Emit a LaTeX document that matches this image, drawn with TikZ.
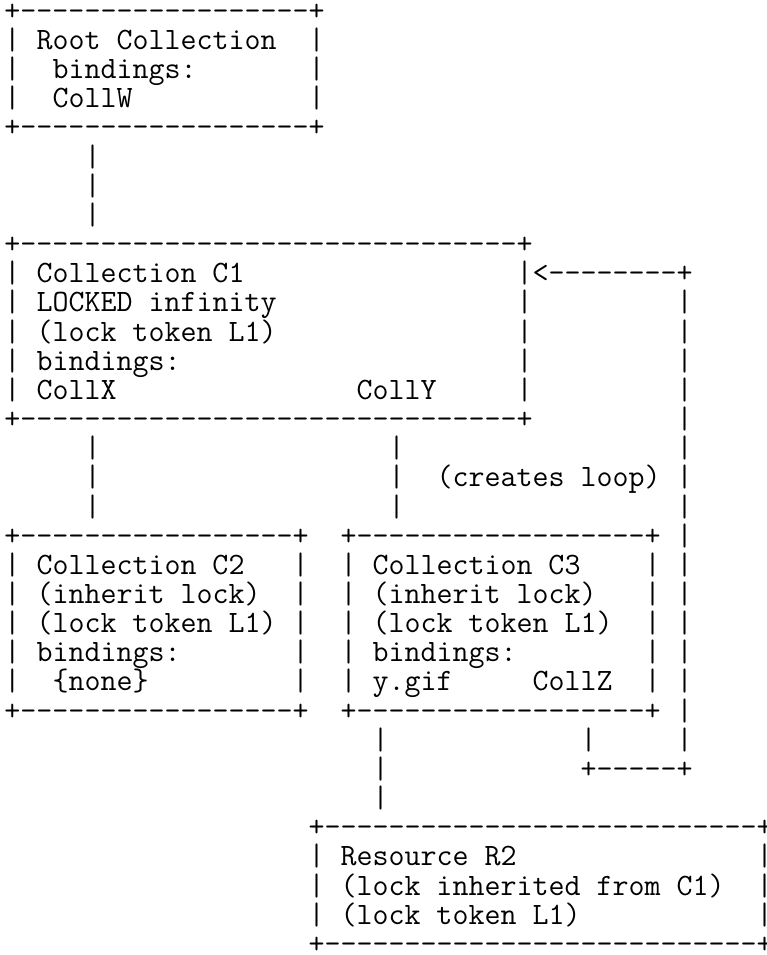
\documentclass[tikz,border=0pt]{standalone}
\usepackage{fontspec}
\ExplSyntaxOn
\cs_new:Npn \myrep #1#2 { \prg_replicate:nn {#1} {#2} }
\ExplSyntaxOff
\newlength\cellw
\settowidth{\cellw}{\ttfamily\fontsize{30}{30}\selectfont M}
\pgfmathsetmacro\ttsize{30*16/\cellw}
\newcommand\dsh{\hbox{-}}
\newcommand\boxedge[1]{+\myrep{#1}{\dsh}+}
\tikzset{asciitxt/.style={anchor=base west, inner sep=0pt, outer sep=0pt, text=black,
  font=\ttfamily\fontsize{\ttsize}{29.16}\selectfont}}
\newcommand\A[3]{\node[asciitxt] (r#2c#1) at ({4.5+16*#1},{20.3+29.16*#2}) {#3};}
\begin{document}
\begin{tikzpicture}[x=1pt,y=-1pt]
\fill[white] (0,0) rectangle (767,955);
\useasboundingbox (0,0) rectangle (767,955);
% Root collection
\A{0}{0}{\boxedge{18}}
\A{0}{1}{|}\A{2}{1}{Root Collection}\A{19}{1}{|}
\A{0}{2}{|}\A{3}{2}{bindings:}\A{19}{2}{|}
\A{0}{3}{|}\A{3}{3}{CollW}\A{19}{3}{|}
\A{0}{4}{\boxedge{18}}
\A{5}{5}{|}\A{5}{6}{|}\A{5}{7}{|}
% Collection C1
\A{0}{8}{\boxedge{31}}
\A{0}{9}{|}\A{2}{9}{Collection C1}\A{32}{9}{|<\myrep{8}{\dsh}+}
\A{0}{10}{|}\A{2}{10}{LOCKED infinity}\A{32}{10}{|}\A{42}{10}{|}
\A{0}{11}{|}\A{2}{11}{(lock token L1)}\A{32}{11}{|}\A{42}{11}{|}
\A{0}{12}{|}\A{2}{12}{bindings:}\A{32}{12}{|}\A{42}{12}{|}
\A{0}{13}{|}\A{2}{13}{CollX}\A{22}{13}{CollY}\A{32}{13}{|}\A{42}{13}{|}
\A{0}{14}{\boxedge{31}}\A{42}{14}{|}
% connectors
\A{5}{15}{|}\A{24}{15}{|}\A{42}{15}{|}
\A{5}{16}{|}\A{24}{16}{|}\A{27}{16}{(creates loop)}\A{42}{16}{|}
\A{5}{17}{|}\A{24}{17}{|}\A{42}{17}{|}
% C2 and C3
\A{0}{18}{\boxedge{17}}\A{21}{18}{\boxedge{18}}\A{42}{18}{|}
\A{0}{19}{|}\A{2}{19}{Collection C2}\A{18}{19}{|}\A{21}{19}{|}\A{23}{19}{Collection C3}\A{40}{19}{|}\A{42}{19}{|}
\A{0}{20}{|}\A{2}{20}{(inherit lock)}\A{18}{20}{|}\A{21}{20}{|}\A{23}{20}{(inherit lock)}\A{40}{20}{|}\A{42}{20}{|}
\A{0}{21}{|}\A{2}{21}{(lock token L1)}\A{18}{21}{|}\A{21}{21}{|}\A{23}{21}{(lock token L1)}\A{40}{21}{|}\A{42}{21}{|}
\A{0}{22}{|}\A{2}{22}{bindings:}\A{18}{22}{|}\A{21}{22}{|}\A{23}{22}{bindings:}\A{40}{22}{|}\A{42}{22}{|}
\A{0}{23}{|}\A{3}{23}{\{none\}}\A{18}{23}{|}\A{21}{23}{|}\A{23}{23}{y.gif}\A{33}{23}{CollZ}\A{40}{23}{|}\A{42}{23}{|}
\A{0}{24}{\boxedge{17}}\A{21}{24}{\boxedge{18}}\A{42}{24}{|}
% lower connectors
\A{23}{25}{|}\A{36}{25}{|}\A{42}{25}{|}
\A{23}{26}{|}\A{36}{26}{\boxedge{5}}
\A{23}{27}{|}
% Resource R2
\A{19}{28}{\boxedge{27}}
\A{19}{29}{|}\A{21}{29}{Resource R2}\A{47}{29}{|}
\A{19}{30}{|}\A{21}{30}{(lock inherited from C1)}\A{47}{30}{|}
\A{19}{31}{|}\A{21}{31}{(lock token L1)}\A{47}{31}{|}
\A{19}{32}{\boxedge{27}}
\end{tikzpicture}
\end{document}
